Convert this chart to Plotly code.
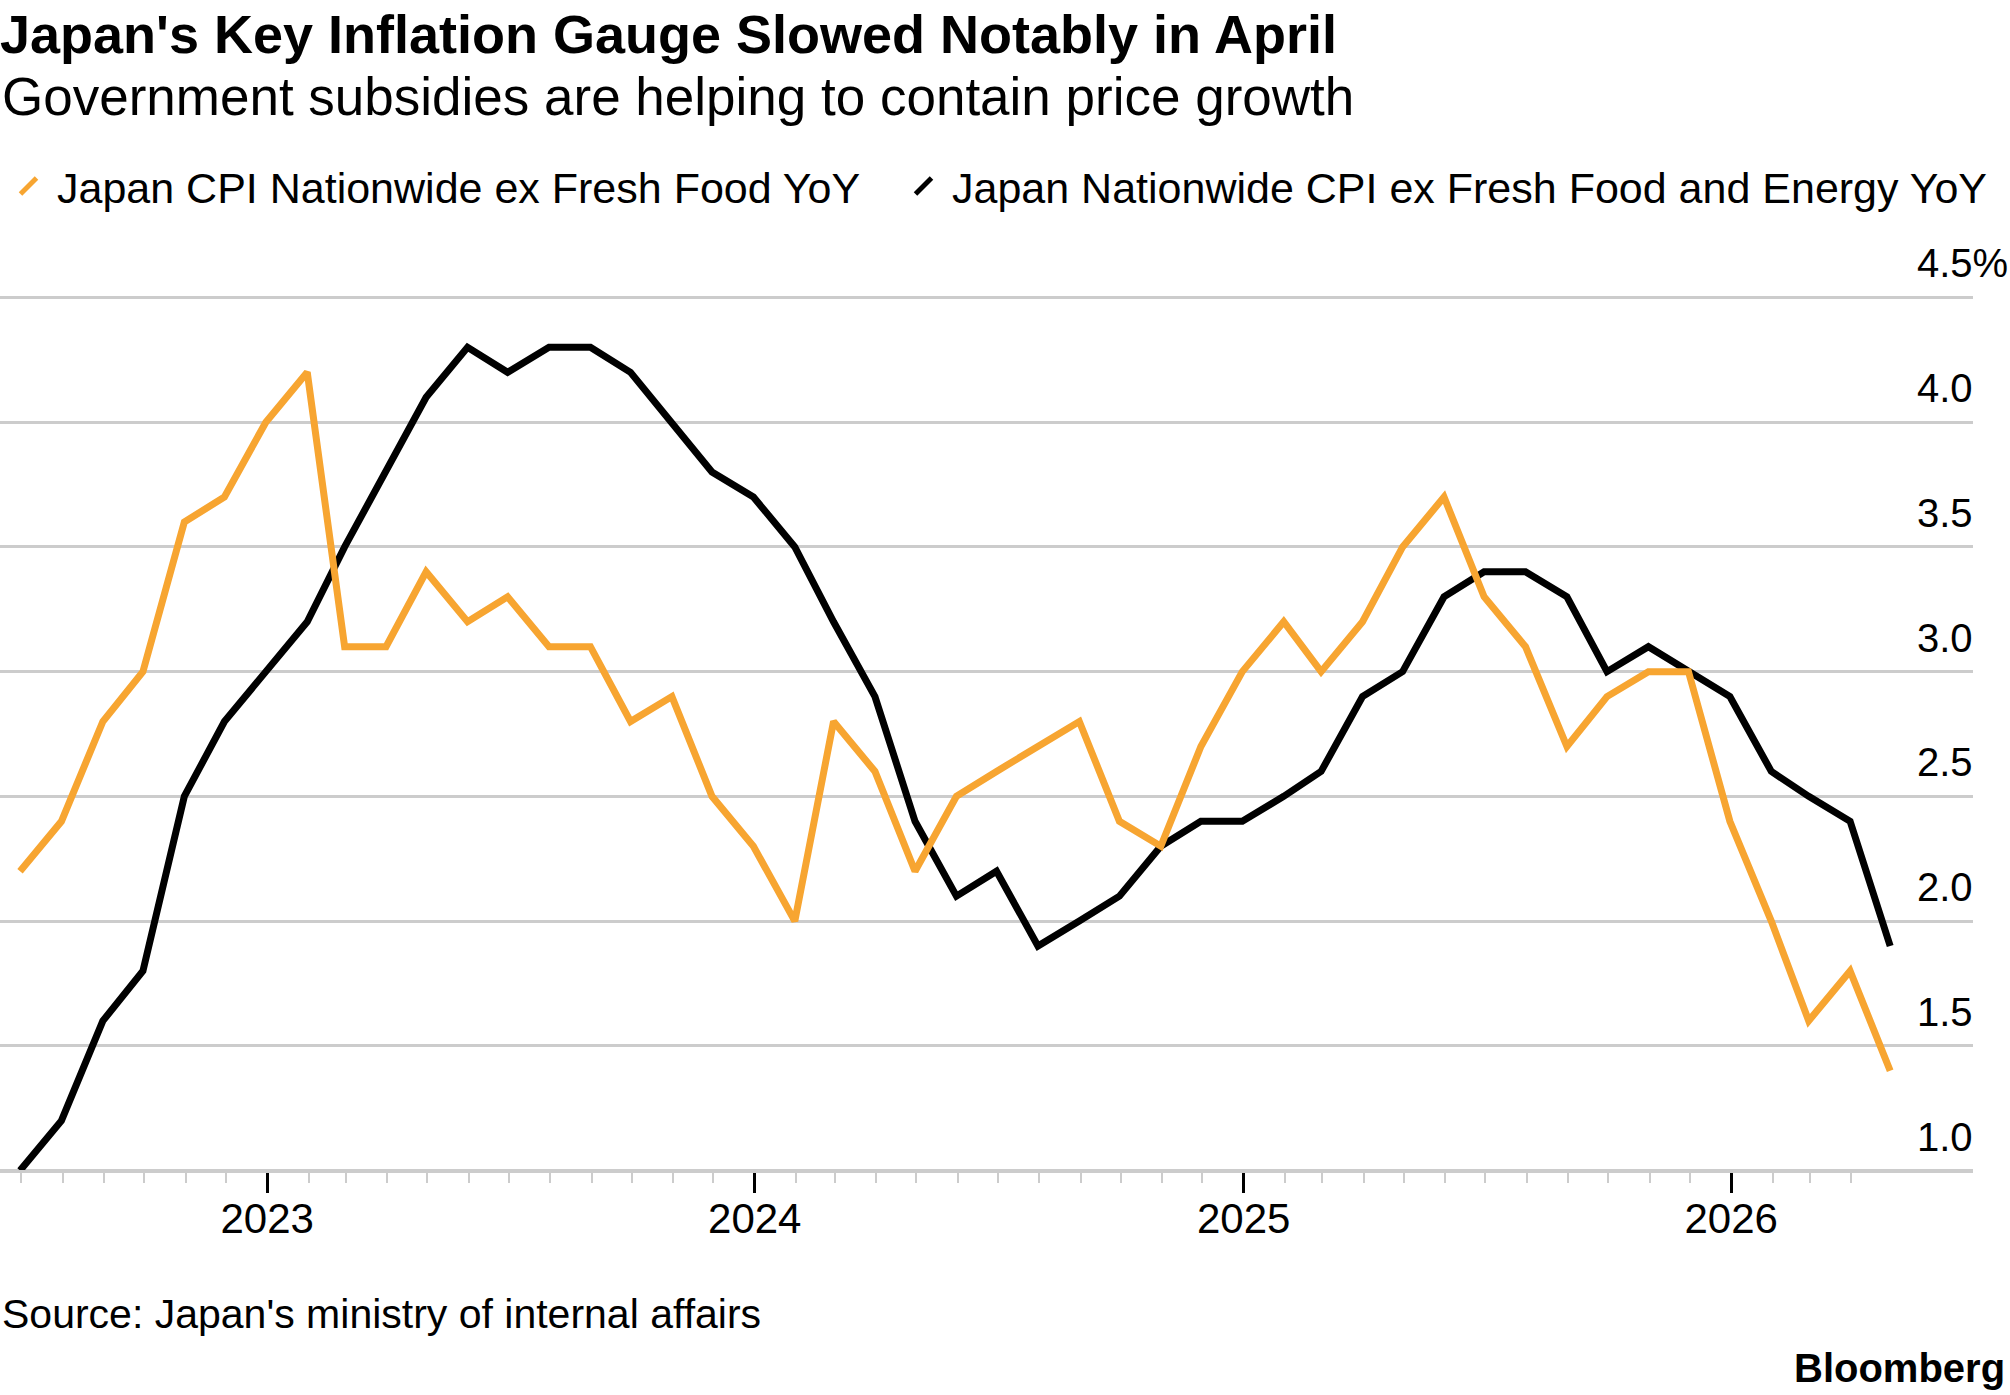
import plotly.graph_objects as go
import pandas as pd

# monthly readings, Jun 2022 - Apr 2026 (plotted at month end)
months = pd.date_range("2022-06-01", "2026-04-01", freq="MS") + pd.offsets.MonthEnd(0)

core_cpi = [2.2, 2.4, 2.8, 3.0, 3.6, 3.7, 4.0,
            4.2, 3.1, 3.1, 3.4, 3.2, 3.3, 3.1, 3.1, 2.8, 2.9, 2.5, 2.3,
            2.0, 2.8, 2.6, 2.2, 2.5, 2.6, 2.7, 2.8, 2.4, 2.3, 2.7, 3.0,
            3.2, 3.0, 3.2, 3.5, 3.7, 3.3, 3.1, 2.7, 2.9, 3.0, 3.0, 2.4,
            2.0, 1.6, 1.8, 1.4]

core_core_cpi = [1.0, 1.2, 1.6, 1.8, 2.5, 2.8, 3.0,
                 3.2, 3.5, 3.8, 4.1, 4.3, 4.2, 4.3, 4.3, 4.2, 4.0, 3.8, 3.7,
                 3.5, 3.2, 2.9, 2.4, 2.1, 2.2, 1.9, 2.0, 2.1, 2.3, 2.4, 2.4,
                 2.5, 2.6, 2.9, 3.0, 3.3, 3.4, 3.4, 3.3, 3.0, 3.1, 3.0, 2.9,
                 2.6, 2.5, 2.4, 1.9]

series_names = ["Japan CPI Nationwide ex Fresh Food YoY",
                "Japan Nationwide CPI ex Fresh Food and Energy YoY"]

y_ticks = [1.0, 1.5, 2.0, 2.5, 3.0, 3.5, 4.0, 4.5]
y_labels = ["1.0", "1.5", "2.0", "2.5", "3.0", "3.5", "4.0", "4.5%"]
year_ticks = ["2023-01-01", "2024-01-01", "2025-01-01", "2026-01-01"]
year_labels = ["2023", "2024", "2025", "2026"]

ORANGE = "#F7A531"
BLACK = "#000000"
GRID = "#CCCCCC"

month_ticks = [d for d in pd.date_range("2022-07-01", "2026-04-01", freq="MS") if d.month != 1]

Y_MIN, Y_MAX = 0.97, 4.55

fig = go.Figure()

# black drawn first so the orange line sits on top
fig.add_trace(go.Scatter(x=months, y=core_core_cpi, mode="lines",
                         line=dict(color=BLACK, width=7), showlegend=False))
fig.add_trace(go.Scatter(x=months, y=core_cpi, mode="lines",
                         line=dict(color=ORANGE, width=7), showlegend=False))

# legend entries with slash symbols, one legend box each
for name, col, leg in zip(series_names, [ORANGE, BLACK], ["legend", "legend2"]):
    fig.add_trace(go.Scatter(x=[None], y=[None], mode="markers", name=name,
                             legend=leg,
                             marker=dict(symbol="line-ne", size=16,
                                         line=dict(width=5, color=col))))

legend_style = dict(orientation="h", xref="container", xanchor="left",
                    y=1 - 186 / 1395, yref="container", yanchor="middle",
                    font=dict(size=43), bgcolor="rgba(0,0,0,0)", itemwidth=47)

fig.update_layout(
    width=2010, height=1395,
    margin=dict(l=0, r=37, t=285, b=217),
    paper_bgcolor="white", plot_bgcolor="white",
    font=dict(family="Liberation Sans, Arial, sans-serif", size=40, color="black"),
    title=dict(text="<b>Japan's Key Inflation Gauge Slowed Notably in April</b>",
               font=dict(size=54, color="black"),
               x=0, xref="container", xanchor="left",
               y=1 - 15 / 1395, yref="container", yanchor="top"),
    legend=dict(x=0, **legend_style),
    legend2=dict(x=895 / 2010, **legend_style),
    xaxis=dict(range=["2022-06-15", "2026-07-01"], type="date",
               anchor="free", position=(1.0 - Y_MIN) / (Y_MAX - Y_MIN),
               showline=True, linecolor=GRID, linewidth=3,
               showgrid=False, zeroline=False,
               tickmode="array", tickvals=year_ticks, ticktext=year_labels,
               ticks="outside", ticklen=20, tickwidth=2.5, tickcolor="black",
               tickfont=dict(size=42), ticklabelstandoff=-10,
               minor=dict(tickmode="array", tickvals=month_ticks, ticks="outside",
                          ticklen=10, tickwidth=2, tickcolor=GRID, showgrid=False),
               automargin=False),
    yaxis=dict(range=[Y_MIN, Y_MAX], side="right",
               tickmode="array", tickvals=y_ticks, ticktext=y_labels,
               showgrid=True, gridcolor=GRID, gridwidth=2.5,
               zeroline=False, showline=False, ticks="",
               ticklabelposition="outside", ticklabelstandoff=-57,
               ticklabelshift=-34, tickfont=dict(size=40),
               automargin=False),
)

plot_h = 1395 - 285 - 217
def py(y_px):
    return (1395 - 217 - y_px) / plot_h

fig.add_annotation(text="Government subsidies are helping to contain price growth",
                   xref="paper", yref="paper", x=0, y=py(96),
                   xanchor="left", yanchor="middle", showarrow=False,
                   font=dict(size=53))
fig.add_annotation(text="Source: Japan's ministry of internal affairs",
                   xref="paper", yref="paper", x=0, y=py(1314),
                   xanchor="left", yanchor="middle", showarrow=False,
                   font=dict(size=41))
fig.add_annotation(text="<b>Bloomberg</b>",
                   xref="paper", yref="paper", x=2007 / 1973, y=py(1368),
                   xanchor="right", yanchor="middle", showarrow=False,
                   font=dict(size=40))

fig.write_html("out.html", config={"displayModeBar": False},
               post_script="document.body.style.margin = '0';")
